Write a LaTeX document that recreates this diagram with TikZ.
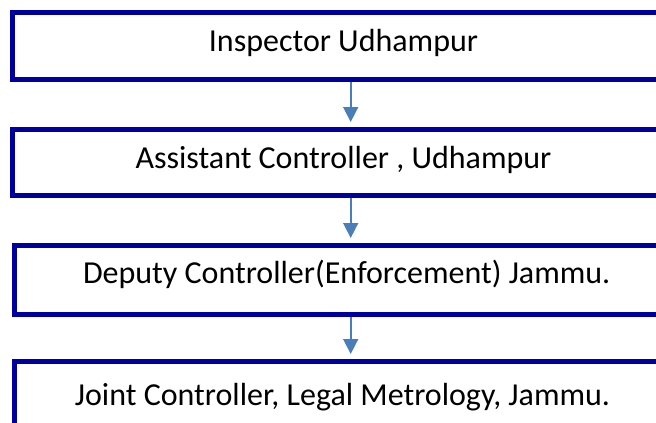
\documentclass[tikz,border=0pt]{standalone}
\usepackage{fontspec}
\setmainfont{Carlito}
\usetikzlibrary{arrows.meta}
\definecolor{boxblue}{RGB}{0,0,160}
\definecolor{arrowblue}{RGB}{74,126,187}
\tikzset{
  orgbox/.style={draw=boxblue, line width=5pt, fill=white, rectangle,
    font=\fontsize{32}{38}\selectfont, text height=18pt, text depth=6pt,
    inner sep=0pt},
  arr/.style={draw=arrowblue, line width=1.6pt, -{Triangle[width=15pt,length=15pt]}, shorten >=5pt}
}
\begin{document}
\begin{tikzpicture}[x=1pt,y=-1pt]
\useasboundingbox (0,0) rectangle (656,423);
\clip (0,0) rectangle (656,423);
\fill[white] (0,0) rectangle (656,423);
\coordinate (ax) at (350.7,0);
\node[orgbox, minimum width=662pt, minimum height=66.5pt] (b1) at (343.5,45.75) {Inspector Udhampur};
\node[orgbox, minimum width=662pt, minimum height=66pt] (b2) at (343.5,162.5) {Assistant Controller , Udhampur};
\node[orgbox, minimum width=664.4pt, minimum height=68.5pt, text depth=10.9pt] (b3) at (346.7,279.75) {Deputy Controller(Enforcement) Jammu.};
\node[orgbox, minimum width=657pt, minimum height=75pt] (b4) at (342.5,399) {Joint Controller, Legal Metrology, Jammu.};
\draw[arr] (b1.south -| ax) -- (b2.north -| ax);
\draw[arr] (b2.south -| ax) -- (b3.north -| ax);
\draw[arr] (b3.south -| ax) -- (b4.north -| ax);
\end{tikzpicture}
\end{document}
